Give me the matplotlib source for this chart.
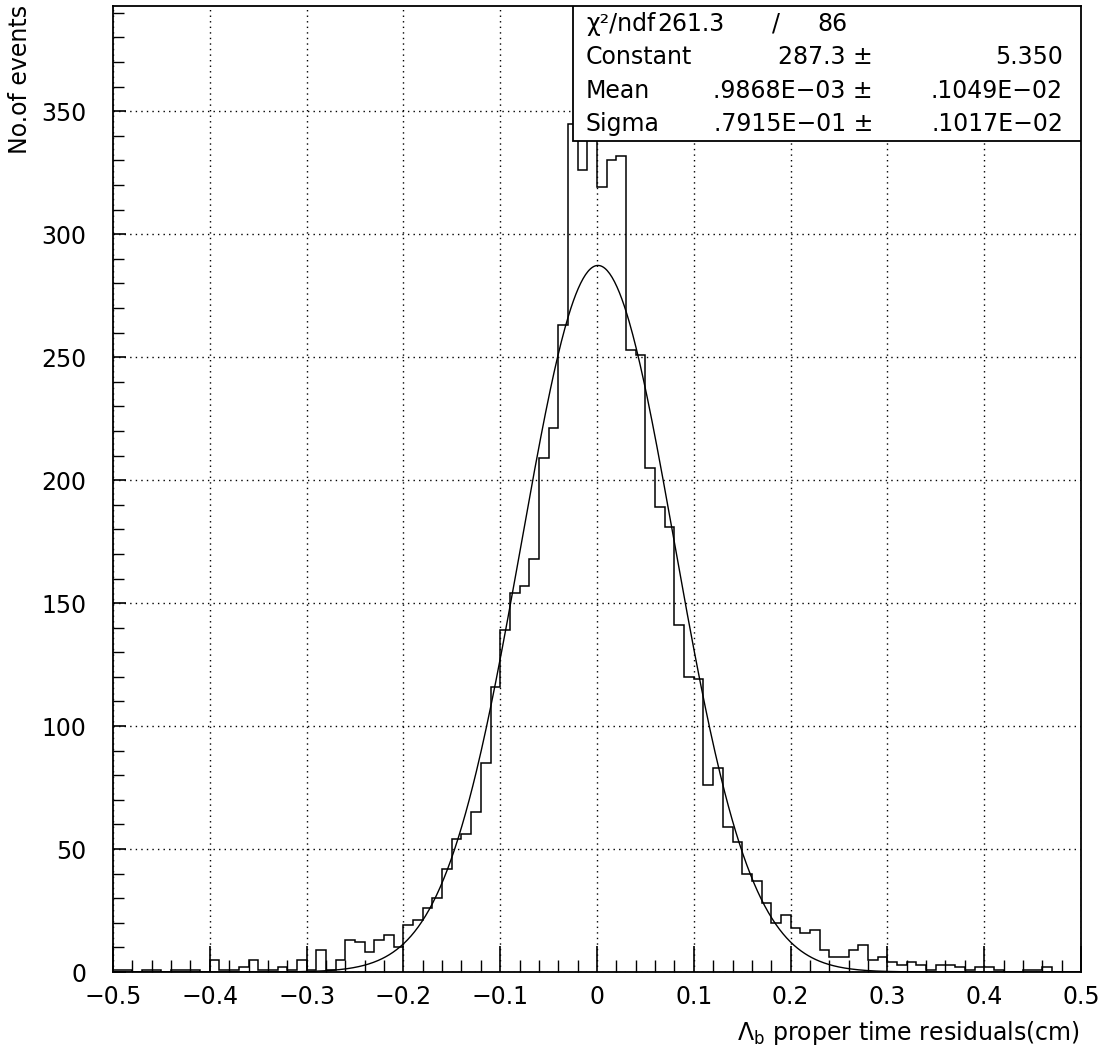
import numpy as np
import matplotlib
matplotlib.use("Agg")
import matplotlib.pyplot as plt
from matplotlib.patches import Rectangle

# 100 bins of width 0.01 between -0.5 and 0.5 (counts)
binEdges = np.linspace(-0.5, 0.5, 101)
counts = [
    1, 1, 0, 1, 1, 0, 1, 1, 1, 0,
    5, 1, 1, 2, 5, 1, 1, 2, 1, 5,
    1, 9, 1, 5, 13, 12, 8, 13, 15, 10,
    19, 21, 26, 30, 42, 54, 56, 65, 85, 116,
    139, 154, 157, 168, 209, 221, 263, 345, 326, 353,
    319, 330, 332, 253, 251, 205, 189, 181, 141, 120,
    119, 76, 83, 59, 53, 40, 37, 28, 20, 23,
    18, 16, 17, 9, 6, 6, 9, 11, 5, 6,
    4, 3, 4, 3, 1, 3, 3, 2, 1, 2,
    2, 1, 0, 0, 1, 1, 2, 0, 0, 0,
]

# gaussian fit parameters from the stats box
fitConstant = 287.3
fitMean = 0.9868e-03
fitSigma = 0.7915e-01

statsRows = [
    ("Constant", "287.3 \u00b1", "5.350"),
    ("Mean", ".9868E\u221203 \u00b1", ".1049E\u221202"),
    ("Sigma", ".7915E\u221201 \u00b1", ".1017E\u221202"),
]


def gauss(x):
    return fitConstant * np.exp(-0.5 * ((x - fitMean) / fitSigma) ** 2)


plt.rcParams['font.family'] = ['DejaVu Sans']
fig = plt.figure(figsize=(11.06, 10.51), dpi=100)
ax = fig.add_axes([113 / 1106, 79 / 1051, 968 / 1106, 966.5 / 1051])

# histogram as a step outline
ax.stairs(counts, binEdges, color='black', linewidth=1.1)

# fitted gaussian
xs = np.linspace(-0.5, 0.5, 800)
ax.plot(xs, gauss(xs), color='black', linewidth=1.0)

ax.set_xlim(-0.5, 0.5)
ax.set_ylim(0, 393)
ax.set_xticks(np.arange(-0.5, 0.51, 0.1))
ax.set_xticklabels(["\u22120.5", "\u22120.4", "\u22120.3", "\u22120.2", "\u22120.1", "0",
                    "0.1", "0.2", "0.3", "0.4", "0.5"])
ax.set_xticks(np.arange(-0.5, 0.51, 0.02), minor=True)
ax.set_yticks(np.arange(0, 351, 50))
ax.set_yticks(np.arange(0, 391, 10), minor=True)

ax.tick_params(axis='x', which='major', direction='in', length=19, width=1.2,
               labelsize=17, pad=9)
ax.tick_params(axis='x', which='minor', direction='in', length=9, width=1.0)
ax.tick_params(axis='y', which='major', direction='in', length=9, width=1.2,
               labelsize=17, pad=19)
ax.tick_params(axis='y', which='minor', direction='in', length=8, width=1.0)

ax.grid(True, which='major', linestyle=(0, (1, 3)), color='black', linewidth=1.0)
for s in ax.spines.values():
    s.set_linewidth(1.3)

# stats box
ax.add_patch(Rectangle((0.475, 0.86), 0.525, 0.14, transform=ax.transAxes,
                       facecolor='white', edgecolor='black', linewidth=1.3, zorder=5))
rowY = [0.981, 0.947, 0.912, 0.877]
fs = 17
ax.text(0.4886, rowY[0], "\u03c7\u00b2/ndf", transform=ax.transAxes, fontsize=fs,
        va='center', ha='left', zorder=6)
ax.text(0.5625, rowY[0], "261.3", transform=ax.transAxes, fontsize=fs,
        va='center', ha='left', zorder=6)
ax.text(0.685, rowY[0], "/", transform=ax.transAxes, fontsize=fs,
        va='center', ha='center', zorder=6)
ax.text(0.759, rowY[0], "86", transform=ax.transAxes, fontsize=fs,
        va='center', ha='right', zorder=6)
for i, (name, val, err) in enumerate(statsRows):
    y = rowY[i + 1]
    ax.text(0.4886, y, name, transform=ax.transAxes, fontsize=fs,
            va='center', ha='left', zorder=6)
    ax.text(0.785, y, val, transform=ax.transAxes, fontsize=fs,
            va='center', ha='right', zorder=6)
    ax.text(0.9814, y, err, transform=ax.transAxes, fontsize=fs,
            va='center', ha='right', zorder=6)

fig.text(20 / 1106, 1 - 5 / 1051, "No.of events", rotation=90, fontsize=17,
         ha='center', va='top')
fig.text(1080 / 1106, 18 / 1051, "\u039b$_\\mathrm{b}$ proper time residuals(cm)",
         fontsize=17, ha='right', va='center')

fig.savefig("out.png", dpi=100)
